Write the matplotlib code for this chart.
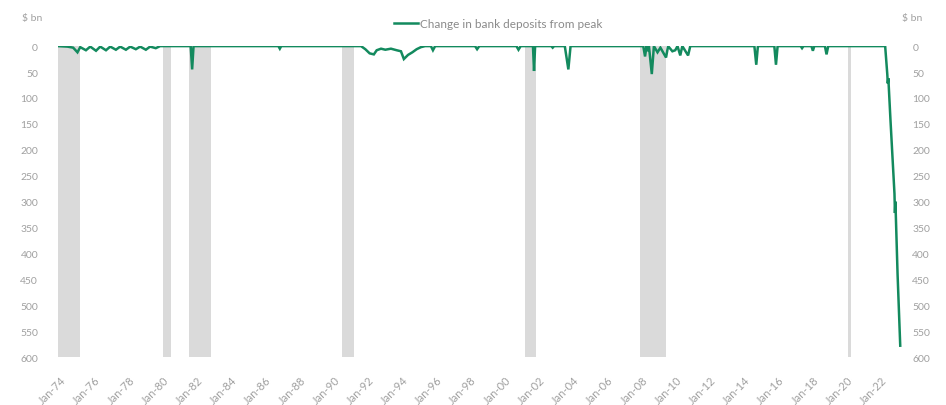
import pandas as pd
import matplotlib
matplotlib.use("Agg")
import matplotlib.pyplot as plt
import matplotlib.dates as mdates

# change in bank deposits from the previous peak, $ bn
dates = [
    "1973-11-01", "1974-06-01", "1974-10-01", "1975-01-01", "1975-03-01", "1975-07-01",
    "1975-10-01", "1976-02-01", "1976-05-01", "1976-09-01", "1976-12-01", "1977-04-01",
    "1977-07-01", "1977-11-01", "1978-02-01", "1978-06-01", "1978-09-01", "1979-01-01",
    "1979-04-01", "1979-08-01", "1979-11-01",
    "1981-08-15", "1981-09-15", "1981-10-15",
    "1986-10-01", "1986-11-01", "1986-12-01",
    "1991-08-01", "1991-11-01", "1992-02-01", "1992-05-01", "1992-07-01", "1992-10-01",
    "1993-01-01", "1993-05-01", "1993-09-01", "1993-12-01", "1994-02-01", "1994-05-01",
    "1994-08-01", "1994-11-01", "1995-02-01", "1995-05-01",
    "1995-09-01", "1995-10-15", "1995-12-01",
    "1998-04-01", "1998-05-15", "1998-07-01",
    "2000-09-01", "2000-10-15", "2000-12-01",
    "2001-08-20", "2001-09-12", "2001-10-05",
    "2002-09-15", "2002-10-15", "2002-11-15",
    "2003-07-01", "2003-09-15", "2003-11-01",
    "2008-02-01", "2008-03-10", "2008-04-10", "2008-05-01", "2008-06-01", "2008-08-01",
    "2008-09-15", "2008-12-01", "2009-02-01", "2009-06-01", "2009-07-15", "2009-10-15",
    "2009-12-15", "2010-02-01", "2010-04-01", "2010-05-15", "2010-09-15", "2010-11-01",
    "2014-08-01", "2014-09-10", "2014-10-15",
    "2015-10-01", "2015-11-05", "2015-12-10",
    "2017-04-15", "2017-05-15", "2017-06-15",
    "2017-12-01", "2018-01-01", "2018-02-01",
    "2018-09-15", "2018-10-20", "2018-11-25",
    "2022-03-25", "2022-05-10", "2022-05-20", "2022-06-01", "2022-07-15", "2022-09-01",
    "2022-10-10", "2022-10-20", "2022-10-30", "2022-12-15", "2023-02-10",
]
drawdown = [
    0, 1, 3, 12, 2, 8,
    1, 9, 1, 8, 1, 7,
    1, 7, 1, 6, 1, 7,
    1, 4, 0,
    0, 45, 0,
    0, 5, 0,
    0, 6, 14, 16, 8, 5,
    7, 5, 8, 10, 25, 17,
    12, 6, 2, 0,
    0, 8, 0,
    0, 6, 0,
    0, 7, 0,
    0, 48, 0,
    0, 3, 0,
    0, 45, 0,
    0, 20, 0, 10, 0, 54,
    0, 12, 3, 22, 0, 10,
    8, 0, 18, 0, 18, 0,
    0, 36, 0,
    0, 36, 0,
    0, 4, 0,
    0, 9, 0,
    0, 16, 0,
    0, 55, 72, 62, 140, 220,
    285, 322, 300, 440, 578,
]

# NBER recessions (shaded)
rec_start = ["1973-11-01", "1980-01-01", "1981-07-01", "1990-07-01", "2001-03-01", "2007-12-01", "2020-02-01"]
rec_end = ["1975-03-01", "1980-07-01", "1982-11-01", "1991-03-01", "2001-11-01", "2009-06-01", "2020-04-01"]

tick_years = list(range(1974, 2023, 2))
y_ticks = [0, 50, 100, 150, 200, 250, 300, 350, 400, 450, 500, 550, 600]

GREEN = "#138a5e"
GREY_TXT = "#a0a0a0"
plt.rcParams["font.family"] = ["Lato", "DejaVu Sans"]

x = pd.to_datetime(dates)

fig = plt.figure(figsize=(9.46, 4.06), dpi=100)
ax = fig.add_axes([0.0608, 0.118, 0.8933, 0.766])

for s, e in zip(rec_start, rec_end):
    ax.axvspan(pd.Timestamp(s), pd.Timestamp(e), color="#dadada", lw=0, zorder=1)

ax.plot(x, drawdown, color=GREEN, lw=1.8, zorder=3, solid_joinstyle="miter",
        label="Change in bank deposits from peak")

ax.set_xlim(pd.Timestamp("1973-11-01"), pd.Timestamp("2023-04-01"))
ax.set_ylim(600, 0)
ax.set_yticks(y_ticks)
ax.set_xticks([pd.Timestamp(f"{yr}-01-01") for yr in tick_years])
ax.xaxis.set_major_formatter(mdates.DateFormatter("%b-%y"))

for sp in ax.spines.values():
    sp.set_visible(False)
ax.tick_params(axis="y", length=0, pad=14, labelsize=7.5, labelcolor=GREY_TXT)
ax.tick_params(axis="x", length=0, pad=12, labelsize=8, labelcolor=GREY_TXT)
for lab in ax.get_xticklabels():
    lab.set_rotation(45)
    lab.set_ha("right")
    lab.set_rotation_mode("anchor")

ax2 = ax.twinx()
ax2.set_ylim(600, 0)
ax2.set_yticks(y_ticks)
for sp in ax2.spines.values():
    sp.set_visible(False)
ax2.tick_params(axis="y", length=0, pad=7, labelsize=7.5, labelcolor=GREY_TXT)

fig.text(0.045, 0.955, "$ bn", ha="right", va="center", fontsize=7.5, color=GREY_TXT)
fig.text(0.953, 0.955, "$ bn", ha="left", va="center", fontsize=7.5, color=GREY_TXT)

leg = fig.legend(loc="center", bbox_to_anchor=(0.527, 0.94), frameon=False,
                 handlelength=2.0, handletextpad=0.2, fontsize=8.5)
for t in leg.get_texts():
    t.set_color("#8a8a8a")

fig.savefig("out.png", dpi=100)
